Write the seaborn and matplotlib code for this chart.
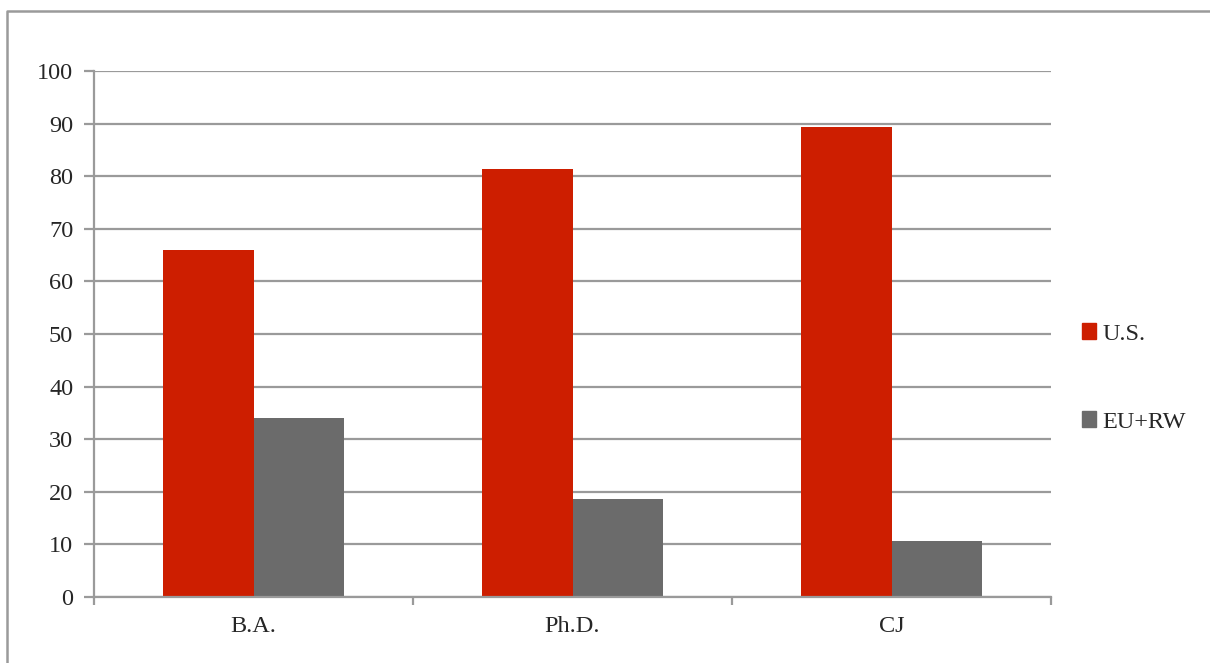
import matplotlib
matplotlib.use("Agg")
import matplotlib.pyplot as plt
import seaborn as sns
import pandas as pd
from matplotlib.lines import Line2D

# ====== 資料 ======
categories = ["B.A.", "Ph.D.", "CJ"]
us_values = [66.0, 81.3, 89.4]
eu_values = [34.0, 18.7, 10.6]
series_names = ["U.S.", "EU+RW"]
y_ticks = list(range(0, 101, 10))

df = pd.DataFrame({
    "category": categories * 2,
    "series": [series_names[0]] * 3 + [series_names[1]] * 3,
    "value": us_values + eu_values,
})

sns.set_style("white")
plt.rcParams["font.family"] = ["Liberation Serif", "DejaVu Serif"]

red = "#CD1E00"
gray = "#6B6B6B"
line_gray = "#9A9A9A"

fig = plt.figure(figsize=(12.1, 6.63), dpi=100)
ax = fig.add_axes([94 / 1210, 66 / 663, 957 / 1210, 526 / 663])

sns.barplot(data=df, x="category", y="value", hue="series",
            palette=[red, gray], width=0.57, saturation=1,
            edgecolor="none", ax=ax, legend=False)

ax.set_xlim(-0.5, 2.5)
ax.set_ylim(0, 100)
ax.set_yticks(y_ticks)
ax.set_xlabel("")
ax.set_ylabel("")

# grid
ax.set_axisbelow(True)
ax.yaxis.grid(True, color=line_gray, linewidth=1.6)

for side in ["top", "right"]:
    ax.spines[side].set_visible(False)
for side in ["left", "bottom"]:
    ax.spines[side].set_color(line_gray)
    ax.spines[side].set_linewidth(1.6)

ax.tick_params(axis="y", direction="out", length=7, width=1.6, color=line_gray,
               labelsize=17.5, pad=8, left=True)
ax.tick_params(axis="x", which="major", length=0, labelsize=17.5, pad=14)
ax.set_xticks([-0.5, 0.5, 1.5, 2.5], minor=True)
ax.tick_params(axis="x", which="minor", direction="out", length=6, width=1.6,
               color=line_gray, bottom=True)

# legend
handles = [plt.Rectangle((0, 0), 1, 1, color=c) for c in [red, gray]]
fig.legend(handles, series_names, loc="center left",
           bbox_to_anchor=(1060 / 1210, 1 - 378 / 663), frameon=False,
           fontsize=17.5, handlelength=0.6, handleheight=0.6,
           handletextpad=0.25, labelspacing=2.75)

# outer border
fig.add_artist(Line2D([7 / 1210, 7 / 1210, 1.0], [0, 1 - 11 / 663, 1 - 11 / 663],
                      transform=fig.transFigure, color=line_gray, linewidth=1.8))

fig.savefig("out.png", dpi=100)
